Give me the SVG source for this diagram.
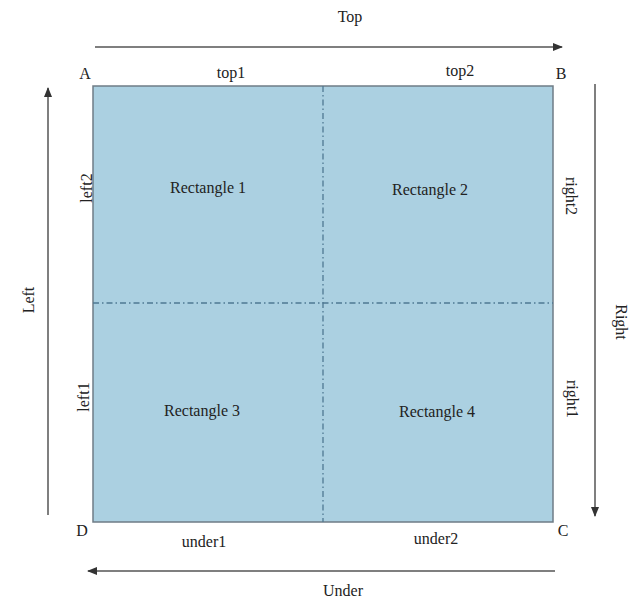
<svg xmlns="http://www.w3.org/2000/svg" width="635" height="600" viewBox="0 0 635 600">
<defs>
<marker id="ah" markerWidth="10" markerHeight="8" refX="9" refY="4" orient="auto" markerUnits="userSpaceOnUse">
<path d="M0,0 L10,4 L0,8 Z" fill="#333"/>
</marker>
<style>
text{font-family:"Liberation Serif","Times New Roman",serif;font-size:16px;fill:#222;text-anchor:middle;dominant-baseline:middle}
.arr{stroke:#555;stroke-width:1.5;fill:none;marker-end:url(#ah)}
.div{stroke:#4f7892;stroke-width:1.3;stroke-dasharray:6,3,1.5,3;fill:none}
</style>
</defs>
<rect width="635" height="600" fill="#fff"/>
<g id="square">
<rect x="93" y="86" width="460" height="436" fill="#abd0e1" stroke="#6f7c86" stroke-width="1.5"/>
</g>
<g id="dividers">
<line class="div" x1="323" y1="86" x2="323" y2="522"/>
<line class="div" x1="93" y1="303" x2="553" y2="303"/>
</g>
<g id="rect1"><text x="208" y="189">Rectangle 1</text></g>
<g id="rect2"><text x="430" y="191">Rectangle 2</text></g>
<g id="rect3"><text x="202" y="412">Rectangle 3</text></g>
<g id="rect4"><text x="437" y="413">Rectangle 4</text></g>
<g id="connectors">
<line class="arr" x1="95" y1="47" x2="562" y2="47"/>
<line class="arr" x1="595" y1="84" x2="595" y2="516"/>
<line class="arr" x1="555" y1="571" x2="88" y2="571"/>
<line class="arr" x1="48" y1="515" x2="48" y2="88"/>
</g>
<g id="labels">
<text x="350" y="18">Top</text>
<text x="343" y="592">Under</text>
<text x="30" y="300" transform="rotate(-90 30 300)">Left</text>
<text x="620" y="322" transform="rotate(90 620 322)">Right</text>
<text x="85" y="75">A</text>
<text x="561" y="75">B</text>
<text x="563" y="532">C</text>
<text x="82" y="532">D</text>
<text x="231" y="74">top1</text>
<text x="460" y="72">top2</text>
<text x="204" y="543">under1</text>
<text x="436" y="540">under2</text>
<text x="88" y="188" transform="rotate(-90 88 188)">left2</text>
<text x="85" y="397" transform="rotate(-90 85 397)">left1</text>
<text x="570" y="196" transform="rotate(90 570 196)">right2</text>
<text x="571" y="399" transform="rotate(90 571 399)">right1</text>
</g>
</svg>
